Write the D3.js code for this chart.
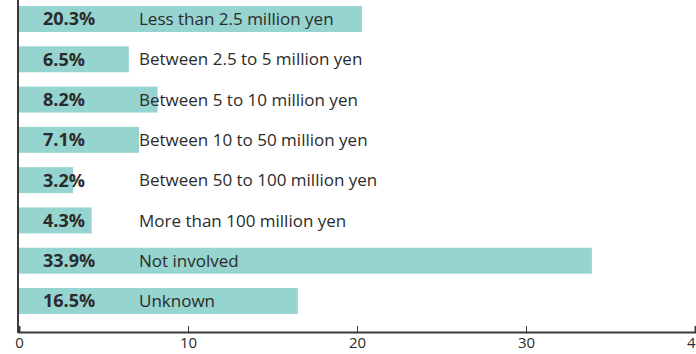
<!DOCTYPE html>
<html>
<head>
<meta charset="utf-8">
<script src="https://cdn.jsdelivr.net/npm/d3@7"></script>
<style>
  body { margin: 0; background: #fff; }
  svg text { font-family: "Open Sans", "Noto Sans", sans-serif; fill: #2b2b2b; }
</style>
</head>
<body>
<script>
'use strict';

// chart data
const categories = [
  "Less than 2.5 million yen",
  "Between 2.5 to 5 million yen",
  "Between 5 to 10 million yen",
  "Between 10 to 50 million yen",
  "Between 50 to 100 million yen",
  "More than 100 million yen",
  "Not involved",
  "Unknown"
];
const values = [20.3, 6.5, 8.2, 7.1, 3.2, 4.3, 33.9, 16.5];
const tickValues = [0, 10, 20, 30, 40];

const width = 696, height = 354;

const svg = d3.select('body').append('svg')
  .attr('width', width)
  .attr('height', height);

// scales
const xScale = d3.scaleLinear()
  .domain([0, 40])
  .range([19, 695]);

const yScale = d3.scaleBand()
  .domain(categories)
  .range([-12, 332])
  .paddingInner(0.355)
  .paddingOuter(0.447);

const rows = categories.map((c, i) => ({ cat: c, val: values[i] }));

// bars
svg.selectAll('.bar')
  .data(rows)
  .enter().append('rect')
  .attr('class', 'bar')
  .attr('x', xScale(0))
  .attr('y', d => yScale(d.cat))
  .attr('width', d => xScale(d.val) - xScale(0))
  .attr('height', yScale.bandwidth())
  .style('fill', '#96d4cf');

// percent labels
svg.selectAll('.pct')
  .data(rows)
  .enter().append('text')
  .attr('class', 'pct')
  .attr('x', 43)
  .attr('y', d => yScale(d.cat) + yScale.bandwidth() / 2)
  .attr('dy', '0.36em')
  .style('font-size', '18px')
  .style('font-weight', 'bold')
  .text(d => d.val.toFixed(1) + '%');

// category labels
svg.selectAll('.cat')
  .data(rows)
  .enter().append('text')
  .attr('class', 'cat')
  .attr('x', 139)
  .attr('y', d => yScale(d.cat) + yScale.bandwidth() / 2)
  .attr('dy', '0.36em')
  .style('font-size', '17px')
  .text(d => d.cat);

// x axis
const xAxis = d3.axisBottom(xScale)
  .tickValues(tickValues)
  .tickSize(-6)
  .tickPadding(5);

const gx = svg.append('g')
  .attr('transform', 'translate(0,332)')
  .call(xAxis);
gx.select('.domain')
  .attr('stroke', '#3a3a3a')
  .attr('stroke-width', 2);
gx.selectAll('.tick line')
  .attr('stroke', '#3a3a3a');
gx.selectAll('.tick text')
  .style('font-size', '15px')
  .style('font-family', '"Open Sans", "Noto Sans", sans-serif')
  .attr('fill', '#2b2b2b');

// y axis line
svg.append('line')
  .attr('x1', xScale(0) - 1)
  .attr('x2', xScale(0) - 1)
  .attr('y1', 0)
  .attr('y2', 333)
  .attr('stroke', '#3a3a3a')
  .attr('stroke-width', 2);
</script>
</body>
</html>
